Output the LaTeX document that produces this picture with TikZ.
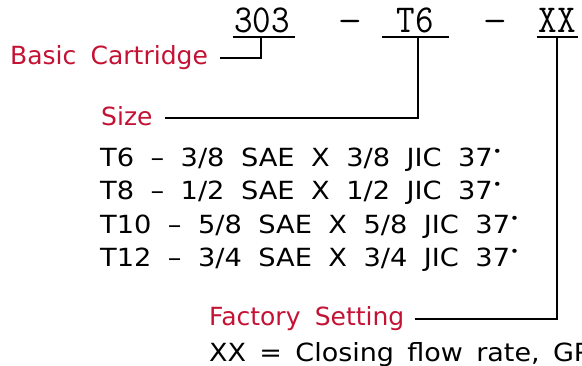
\documentclass[tikz,border=0pt]{standalone}
\usepackage{fontspec}
\setmainfont{DejaVu Sans}[WordSpace=1.8]
\newfontfamily\bodyfont{DejaVu Sans}[WordSpace=1.9,FakeStretch=1.09]
\newfontfamily\lastfont{DejaVu Sans}[WordSpace=1.55,FakeStretch=1.08]
\usetikzlibrary{calc}
\definecolor{lblred}{RGB}{196,18,52}
\newcommand{\degdot}{\raisebox{0.42em}{\fontsize{14}{14}\selectfont •}}
\begin{document}
\begin{tikzpicture}[x=1pt,y=-1pt,
  lbl/.style={text=lblred, font=\fontsize{25}{25}\selectfont, anchor=base west, inner sep=0pt},
  body/.style={font=\bodyfont\fontsize{25}{25}\selectfont, anchor=base west, inner sep=0pt},
  code/.style={font=\ttfamily\fontsize{36}{36}\selectfont, anchor=base, inner sep=0pt},
  conn/.style={line width=2pt}]
\useasboundingbox (0,0) rectangle (582,366);
\clip (0,0) rectangle (582,366);
% part number
\node[code] (n303) at (262,33) {\scalebox{1}[1.1]{303}};
\node[code] (d1) at (350,33) {\scalebox{1.3}[1]{–}};
\node[code] (nT6) at (415,33) {\scalebox{1}[1.1]{T6}};
\node[code] (d2) at (495,33) {\scalebox{1.3}[1]{–}};
\node[code] (nXX) at (557,33) {\scalebox{1}[1.1]{XX}};
% underlines
\draw[conn] ($(n303.base)+(-29,4)$) -- ($(n303.base)+(33,4)$);
\draw[conn] ($(nT6.base)+(-33,4)$) -- ($(nT6.base)+(34,4)$);
\draw[conn] ($(nXX.base)+(-20,4)$) -- ($(nXX.base)+(21,4)$);
% labels
\node[lbl] (basic) at (10,65) {Basic Cartridge};
\node[lbl] (size) at (101,126) {Size};
\node[lbl] (fact) at (209,326) {Factory Setting};
% body text
\node[body] (r1) at (100,167) {T6 – 3/8 SAE X 3/8 JIC 37\degdot};
\node[body] (r2) at (100,200) {T8 – 1/2 SAE X 1/2 JIC 37\degdot};
\node[body] (r3) at (100,234) {T10 – 5/8 SAE X 5/8 JIC 37\degdot};
\node[body] (r4) at (100,267) {T12 – 3/4 SAE X 3/4 JIC 37\degdot};
\node[body, font=\lastfont\fontsize{25}{25}\selectfont] (xx) at (209,362) {XX = Closing flow rate, GPM};
% connectors
\draw[conn] ([xshift=12pt,yshift=7pt]basic.base east) -| ($(n303.base)+(-1,4)$);
\draw[conn] ([xshift=12pt,yshift=8pt]size.base east) -| ($(nT6.base)+(3,4)$);
\draw[conn] ([xshift=10pt,yshift=7pt]fact.base east) -| ($(nXX.base)+(0,4)$);
\end{tikzpicture}
\end{document}
